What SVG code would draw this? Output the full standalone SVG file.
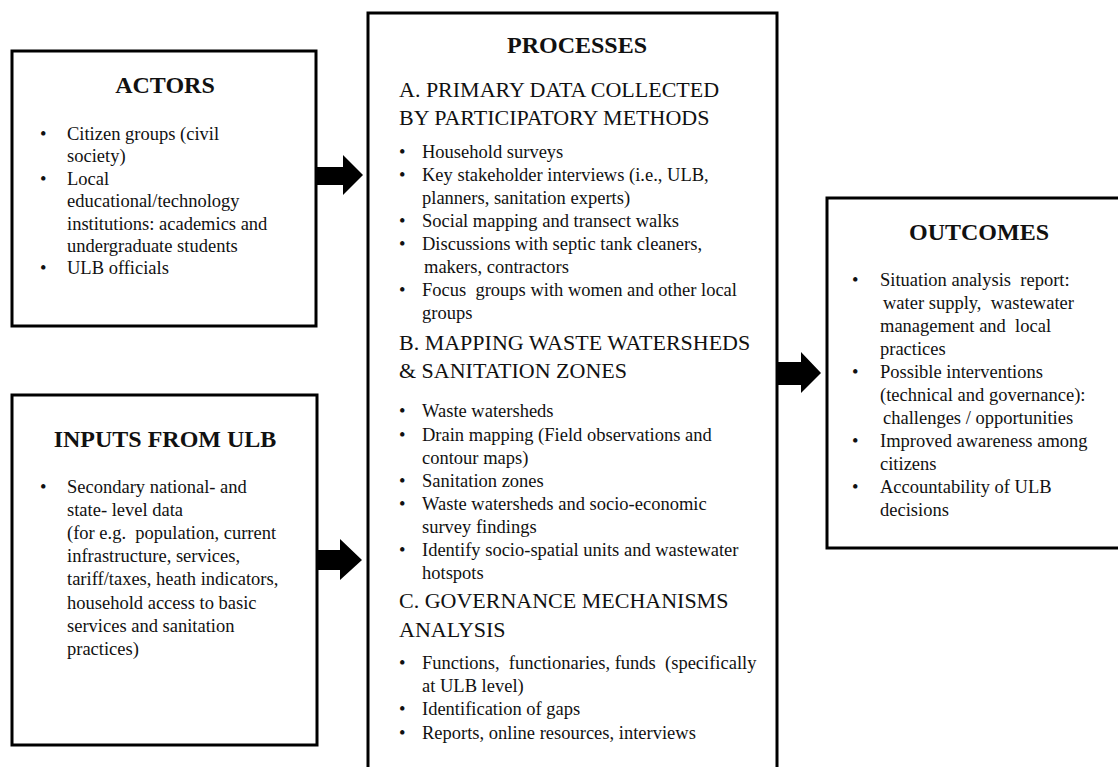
<svg xmlns="http://www.w3.org/2000/svg" width="1118" height="767" viewBox="0 0 1118 767">
<style>
  .box { fill: #ffffff; stroke: #000000; stroke-width: 3; }
  text { font-family: "Liberation Serif", "Times New Roman", serif; fill: #111111; }
  .title { font-size: 24px; font-weight: bold; text-anchor: middle; }
  .head { font-size: 22px; }
  .item { font-size: 18.5px; }
  .pre { white-space: pre; }
  .arrow { fill: #000000; stroke: none; }
</style>
<rect x="0" y="0" width="1118" height="767" fill="#ffffff"/>

<g id="actors">
  <rect class="box" x="12" y="51" width="304" height="275"/>
  <text class="title" x="165" y="93">ACTORS</text>
  <text class="item" x="40" y="140">•</text>
  <text class="item" x="67" y="140">Citizen groups (civil</text>
  <text class="item" x="67" y="162">society)</text>
  <text class="item" x="40" y="185">•</text>
  <text class="item" x="67" y="185">Local</text>
  <text class="item" x="67" y="207">educational/technology</text>
  <text class="item" x="67" y="230">institutions: academics and</text>
  <text class="item" x="67" y="252">undergraduate students</text>
  <text class="item" x="40" y="274">•</text>
  <text class="item" x="67" y="274">ULB officials</text>
</g>

<g id="inputs">
  <rect class="box" x="12" y="395" width="305" height="350"/>
  <text class="title" x="165" y="447">INPUTS FROM ULB</text>
  <text class="item" x="40" y="493">•</text>
  <text class="item" x="67" y="493">Secondary national- and</text>
  <text class="item" x="67" y="516">state- level data</text>
  <text class="item pre" x="67" y="539">(for e.g.  population, current</text>
  <text class="item" x="67" y="562">infrastructure, services,</text>
  <text class="item" x="67" y="585">tariff/taxes, heath indicators,</text>
  <text class="item" x="67" y="609">household access to basic</text>
  <text class="item" x="67" y="632">services and sanitation</text>
  <text class="item" x="67" y="655">practices)</text>
</g>

<g id="processes">
  <rect class="box" x="368" y="13" width="409" height="800"/>
  <text class="title" x="577" y="53">PROCESSES</text>
  <text class="head" x="399" y="97">A. PRIMARY DATA COLLECTED</text>
  <text class="head" x="399" y="125">BY PARTICIPATORY METHODS</text>
  <text class="item" x="399" y="158">•</text>
  <text class="item" x="422" y="158">Household surveys</text>
  <text class="item" x="399" y="181">•</text>
  <text class="item" x="422" y="181">Key stakeholder interviews (i.e., ULB,</text>
  <text class="item" x="422" y="204">planners, sanitation experts)</text>
  <text class="item" x="399" y="227">•</text>
  <text class="item" x="422" y="227">Social mapping and transect walks</text>
  <text class="item" x="399" y="250">•</text>
  <text class="item" x="422" y="250">Discussions with septic tank cleaners,</text>
  <text class="item" x="424" y="273">makers, contractors</text>
  <text class="item" x="399" y="296">•</text>
  <text class="item pre" x="422" y="296">Focus  groups with women and other local</text>
  <text class="item" x="422" y="319">groups</text>
  <text class="head" x="399" y="350">B. MAPPING WASTE WATERSHEDS</text>
  <text class="head" x="399" y="378">&amp; SANITATION ZONES</text>
  <text class="item" x="399" y="417">•</text>
  <text class="item" x="422" y="417">Waste watersheds</text>
  <text class="item" x="399" y="441">•</text>
  <text class="item" x="422" y="441">Drain mapping (Field observations and</text>
  <text class="item" x="422" y="464">contour maps)</text>
  <text class="item" x="399" y="487">•</text>
  <text class="item" x="422" y="487">Sanitation zones</text>
  <text class="item" x="399" y="510">•</text>
  <text class="item" x="422" y="510">Waste watersheds and socio-economic</text>
  <text class="item" x="422" y="533">survey findings</text>
  <text class="item" x="399" y="556">•</text>
  <text class="item" x="422" y="556">Identify socio-spatial units and wastewater</text>
  <text class="item" x="422" y="579">hotspots</text>
  <text class="head" x="399" y="608">C. GOVERNANCE MECHANISMS</text>
  <text class="head" x="399" y="637">ANALYSIS</text>
  <text class="item" x="399" y="669">•</text>
  <text class="item pre" x="422" y="669">Functions,  functionaries, funds  (specifically</text>
  <text class="item" x="422" y="692">at ULB level)</text>
  <text class="item" x="399" y="715">•</text>
  <text class="item" x="422" y="715">Identification of gaps</text>
  <text class="item" x="399" y="739">•</text>
  <text class="item" x="422" y="739">Reports, online resources, interviews</text>
</g>

<g id="outcomes">
  <rect class="box" x="827" y="198" width="320" height="350"/>
  <text class="title" x="979" y="240">OUTCOMES</text>
  <text class="item" x="852" y="286">•</text>
  <text class="item pre" x="880" y="286">Situation analysis  report:</text>
  <text class="item pre" x="883" y="309">water supply,  wastewater</text>
  <text class="item pre" x="880" y="332">management and  local</text>
  <text class="item" x="880" y="355">practices</text>
  <text class="item" x="852" y="378">•</text>
  <text class="item" x="880" y="378">Possible interventions</text>
  <text class="item" x="880" y="401">(technical and governance):</text>
  <text class="item" x="883" y="424">challenges / opportunities</text>
  <text class="item" x="852" y="447">•</text>
  <text class="item" x="880" y="447">Improved awareness among</text>
  <text class="item" x="880" y="470">citizens</text>
  <text class="item" x="852" y="493">•</text>
  <text class="item" x="880" y="493">Accountability of ULB</text>
  <text class="item" x="880" y="516">decisions</text>
</g>

<g id="connectors">
  <polygon class="arrow" points="317,167 343,167 343,155 363,175 343,195 343,185 317,185"/>
  <polygon class="arrow" points="317,550 340,550 340,539 362,560 340,580 340,570 317,570"/>
  <polygon class="arrow" points="777,362 801,362 801,352 821,373 801,393 801,385 777,385"/>
</g>
</svg>
